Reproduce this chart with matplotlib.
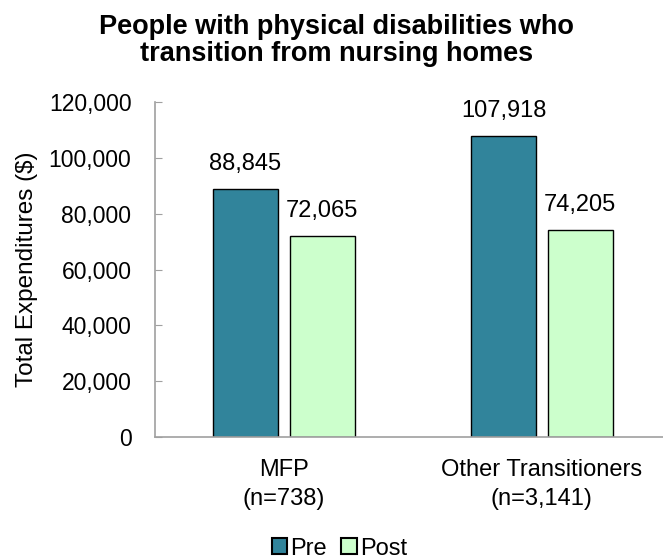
import numpy as np
import matplotlib.pyplot as plt
from matplotlib.patches import Patch

plt.rcParams['font.family'] = ['Liberation Sans', 'DejaVu Sans']

groups = ['MFP\n(n=738)', 'Other Transitioners\n(n=3,141)']
pre_values = [88845, 107918]
post_values = [72065, 74205]
series_names = ['Pre', 'Post']
y_ticks = [0, 20000, 40000, 60000, 80000, 100000, 120000]

pre_color = '#31849B'
post_color = '#CCFFCC'

fig = plt.figure(figsize=(6.63, 5.58), dpi=100)
# axes runs off the right edge of the figure, like the original layout
ax = fig.add_axes([0.2338, 0.2168, 0.778, 0.6004])

x = np.arange(len(groups))
width = 0.252
pre_bars = ax.bar(x - 0.149, pre_values, width, color=pre_color,
                  edgecolor='black', linewidth=1.0)
post_bars = ax.bar(x + 0.149, post_values, width, color=post_color,
                   edgecolor='black', linewidth=1.0)

for bars in (pre_bars, post_bars):
    for b in bars:
        h = b.get_height()
        ax.annotate(f'{h:,.0f}', (b.get_x() + b.get_width() / 2, h),
                    xytext=(0, 10), textcoords='offset points',
                    ha='center', va='bottom', fontsize=17)

ax.set_xlim(-0.5, 1.5)
ax.set_ylim(0, 120000)
ax.set_yticks(y_ticks)
ax.set_yticklabels([f'{v:,}' for v in y_ticks], fontsize=16.5)
ax.set_xticks(x)
ax.set_xticklabels(groups, fontsize=17, linespacing=1.4)
ax.tick_params(axis='x', length=0, pad=16)
ax.tick_params(axis='y', direction='in', length=5, color='#A0A0A0', pad=17)

for side in ('top', 'right'):
    ax.spines[side].set_visible(False)
for side in ('left', 'bottom'):
    ax.spines[side].set_color('#A0A0A0')
    ax.spines[side].set_linewidth(1.2)

ax.set_ylabel('Total Expenditures ($)', fontsize=17.5, labelpad=8)

fig.text(0.507, 0.975, 'People with physical disabilities who\ntransition from nursing homes',
         ha='center', va='top', fontsize=19.5, fontweight='bold', linespacing=1.05)

handles = [Patch(facecolor=pre_color, edgecolor='black', linewidth=1.5),
           Patch(facecolor=post_color, edgecolor='black', linewidth=1.5)]
fig.legend(handles, series_names, loc='center', bbox_to_anchor=(0.512, 0.017),
           ncol=2, frameon=False, fontsize=17, handlelength=0.65, handleheight=0.65,
           handletextpad=0.15, columnspacing=0.6, borderpad=0)

fig.savefig('out.png', dpi=100)
